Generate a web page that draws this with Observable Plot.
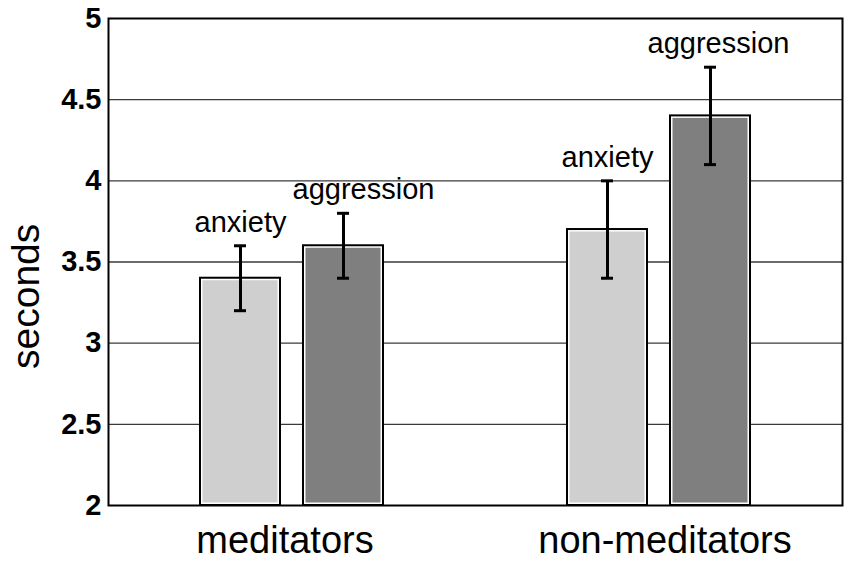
<!DOCTYPE html>
<html>
<head>
<meta charset="utf-8">
<script src="https://cdn.jsdelivr.net/npm/d3@7"></script>
<script src="https://cdn.jsdelivr.net/npm/@observablehq/plot@0.6"></script>
<style>
  html, body { margin: 0; padding: 0; background: #fff; }
  #chart { width: 850px; height: 562px; }
</style>
</head>
<body>
<div id="chart"></div>
<script>
const groups = ["meditators", "non-meditators"];
const series = ["anxiety", "aggression"];
const meanValues = [[3.4, 3.6], [3.7, 4.4]];
const errLow = [[3.2, 3.4], [3.4, 4.1]];
const errHigh = [[3.6, 3.8], [4.0, 4.7]];
const yTicks = [2, 2.5, 3, 3.5, 4, 4.5, 5];
const yLabel = "seconds";

const rows = [];
groups.forEach((g, i) => series.forEach((s, j) => rows.push({
  group: g, series: s, mean: meanValues[i][j], lo: errLow[i][j], hi: errHigh[i][j]
})));

// label horizontal nudges (style only)
const shift = {"meditators|aggression": 20, "non-meditators|aggression": 8};
const labelMarks = rows.map(r => Plot.text([r], {
  fx: "group", x: "series", y: "hi", text: "series",
  lineAnchor: "bottom", dy: -14, dx: shift[r.group + "|" + r.series] || 0,
  fontSize: 29, fill: "black"
}));

// group label nudges (style only)
const groupShift = {"meditators": -7, "non-meditators": 6};
const groupLabelMarks = groups.map(g => Plot.text([{group: g}], {
  fx: "group", text: "group", frameAnchor: "bottom", lineAnchor: "top",
  dy: 21, dx: groupShift[g], fontSize: 38, fill: "black"
}));

const chart = Plot.plot({
  width: 850,
  height: 562,
  marginLeft: 107,
  marginRight: 8,
  marginTop: 18,
  marginBottom: 57,
  style: {fontFamily: "'Liberation Sans', Arial, sans-serif", background: "white"},
  y: {domain: [2, 5], label: null},
  fx: {domain: groups, padding: 0, label: null, axis: null},
  x: {domain: series, paddingInner: 0.22, paddingOuter: 0.88, axis: null},
  color: {domain: series, range: ["#cfcfcf", "#7f7f7f"]},
  marks: [
    Plot.ruleY(yTicks.slice(1, -1), {stroke: "#3a3a3a", strokeWidth: 1.3}),
    Plot.barY(rows, {fx: "group", x: "series", y1: 2, y2: "mean", fill: "white", stroke: "black", strokeWidth: 2}),
    Plot.barY(rows, {fx: "group", x: "series", y1: 2, y2: "mean", fill: "series", inset: 2.5}),
    Plot.ruleX(rows, {fx: "group", x: "series", y1: "lo", y2: "hi", stroke: "black", strokeWidth: 3}),
    Plot.tickY(rows, {fx: "group", x: "series", y: "lo", stroke: "black", strokeWidth: 3, insetLeft: 34, insetRight: 34}),
    Plot.tickY(rows, {fx: "group", x: "series", y: "hi", stroke: "black", strokeWidth: 3, insetLeft: 34, insetRight: 34}),
    ...labelMarks,
    ...groupLabelMarks,
    Plot.axisY({ticks: yTicks, tickSize: 0, tickPadding: 7, fontSize: 29, fontWeight: "bold", tickFormat: d => String(d), label: null}),
    Plot.text([{group: groups[0], t: yLabel}], {fx: "group", text: "t", frameAnchor: "left", rotate: -90, dx: -82, dy: 107, fontSize: 39, fill: "black"}),
    Plot.frame({facet: "super", stroke: "black", strokeWidth: 2})
  ]
});
document.getElementById("chart").appendChild(chart);
</script>
</body>
</html>
